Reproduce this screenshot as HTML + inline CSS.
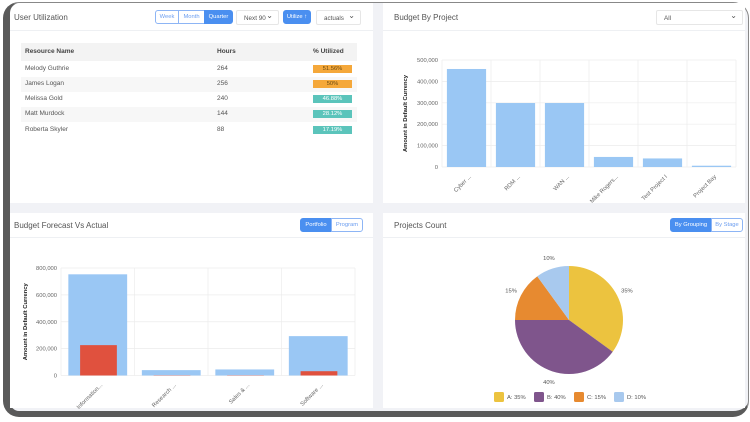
<!DOCTYPE html>
<html><head><meta charset="utf-8">
<style>
*{box-sizing:border-box;margin:0;padding:0}
body{width:750px;height:422px;background:#fff;font-family:"Liberation Sans",sans-serif;position:relative;overflow:hidden;color:#555}
#frame{position:absolute;left:3px;top:2px;width:746px;height:415px;border:1px solid #888;border-left:7px solid #5a5a5a;border-bottom:6px solid #5a5a5a;border-radius:16px;background:#f1f2f6;overflow:hidden}
.panel{position:absolute;background:#fff}
.title{position:absolute;font-size:8px;color:#555}
.hline{position:absolute;left:0;right:0;height:1px;background:#eef0f3}
.btn{position:absolute;font-size:5.8px;text-align:center;line-height:13px;height:14px;border:1px solid #8db5f5;color:#6c9ef0;background:#fff}
.btn.on{background:#4a8ff0;color:#fff;border-color:#4a8ff0}
.sel{position:absolute;font-size:6.3px;height:15px;line-height:15px;border:1px solid #e6e6e6;border-radius:2px;padding-left:7px;color:#555;background:#fff}
.sel:after{content:"⌄";position:absolute;right:5px;top:-3px;font-size:8px}
.td{position:absolute;font-size:6.5px;color:#555}
.badge{position:absolute;width:39px;height:8px;font-size:5.8px;text-align:center;line-height:8px;color:#fff}
svg text{font-family:"Liberation Sans",sans-serif}
</style></head><body>
<div id="frame"></div>
<div class="panel" style="left:10px;top:3px;width:363px;height:200px;border-top-left-radius:10px">
  <div class="title" style="left:4px;top:10px">User Utilization</div>
  <div class="btn" style="left:145px;top:7px;width:24px;border-radius:3px 0 0 3px">Week</div>
  <div class="btn" style="left:168px;top:7px;width:27px">Month</div>
  <div class="btn on" style="left:194px;top:7px;width:29px;border-radius:0 3px 3px 0">Quarter</div>
  <div class="sel" style="left:226px;top:7px;width:43px">Next 90</div>
  <div class="btn on" style="left:273px;top:7px;width:28px;border-radius:3px">Utilize ↑</div>
  <div class="sel" style="left:306px;top:7px;width:45px">actuals</div>
  <div class="hline" style="top:27px"></div>
  <div style="position:absolute;left:11px;top:40px;width:336px;height:18px;background:#f3f3f3"></div>
  <div class="td" style="left:15px;top:45px;font-weight:bold;color:#444">Resource Name</div>
  <div class="td" style="left:207px;top:45px;font-weight:bold;color:#444">Hours</div>
  <div class="td" style="left:303px;top:45px;font-weight:bold;color:#444">% Utilized</div>
  <div style="position:absolute;left:11px;top:74px;width:336px;height:15px;background:#f7f7f7"></div>
  <div style="position:absolute;left:11px;top:104px;width:336px;height:15px;background:#f7f7f7"></div>
  <div class="td" style="left:15px;top:62px">Melody Guthrie</div><div class="td" style="left:207px;top:62px">264</div><div class="badge" style="left:303px;top:62px;background:#f5a83a;color:#6b4a10">51.56%</div>
  <div class="td" style="left:15px;top:77px">James Logan</div><div class="td" style="left:207px;top:77px">256</div><div class="badge" style="left:303px;top:77px;background:#f5a83a;color:#6b4a10">50%</div>
  <div class="td" style="left:15px;top:92px">Melissa Gold</div><div class="td" style="left:207px;top:92px">240</div><div class="badge" style="left:303px;top:92px;background:#5bc4bb">46.88%</div>
  <div class="td" style="left:15px;top:107px">Matt Murdock</div><div class="td" style="left:207px;top:107px">144</div><div class="badge" style="left:303px;top:107px;background:#5bc4bb">28.12%</div>
  <div class="td" style="left:15px;top:123px">Roberta Skyler</div><div class="td" style="left:207px;top:123px">88</div><div class="badge" style="left:303px;top:123px;background:#5bc4bb">17.19%</div>
</div>
<div class="panel" style="left:383px;top:3px;width:362px;height:200px">
  <div class="title" style="left:11px;top:10px">Budget By Project</div>
  <div class="sel" style="left:273px;top:7px;width:87px">All</div>
  <div class="hline" style="top:27px"></div>
</div>
<div class="panel" style="left:10px;top:213px;width:363px;height:195px">
  <div class="title" style="left:4px;top:8px">Budget Forecast Vs Actual</div>
  <div class="btn on" style="left:290px;top:5px;width:32px;border-radius:3px 0 0 3px">Portfolio</div>
  <div class="btn" style="left:321px;top:5px;width:32px;border-radius:0 3px 3px 0">Program</div>
  <div class="hline" style="top:24px"></div>
</div>
<div class="panel" style="left:383px;top:213px;width:362px;height:195px">
  <div class="title" style="left:11px;top:8px">Projects Count</div>
  <div class="btn on" style="left:287px;top:5px;width:42px;border-radius:3px 0 0 3px">By Grouping</div>
  <div class="btn" style="left:328px;top:5px;width:32px;border-radius:0 3px 3px 0">By Stage</div>
  <div class="hline" style="top:24px"></div>
</div>
<svg id="charts" width="750" height="422" style="position:absolute;left:0;top:0"></svg>
<script>
const projCats=["Cyber ...","RDM ...","WAN ...","Mike Rogers...","Test Project I","Project Bay"];
const projValues=[458000,299000,299000,47000,40000,6000];
const projTicks=[0,100000,200000,300000,400000,500000];
const fcCats=["Information...","Research ...","Sales & ...","Software ..."];
const fcForecast=[753000,40000,45000,293000];
const fcActual=[226000,2000,2000,32000];
const fcTicks=[0,200000,400000,600000,800000];
const pieLabels=["A","B","C","D"];
const pieValues=[35,40,15,10];
const pieColors=["#ecc33f","#7f558c","#e78a30","#a8c9ee"];

const NS="http://www.w3.org/2000/svg";
const svg=document.getElementById('charts');
function mk(tag,attrs,parent){const e=document.createElementNS(NS,tag);for(const k in attrs)e.setAttribute(k,attrs[k]);(parent||svg).appendChild(e);return e;}
function fmt(v){return v.toLocaleString('en-US');}

function barChart(o){
  const g=mk('g',{});
  
  
  const max=o.ticks[o.ticks.length-1];
  const y=v=>o.y0-(v/max)*(o.y0-o.y1);
  const bw=(o.x1-o.x0)/o.cats.length;
  o.ticks.forEach(t=>{
    mk('line',{x1:o.x0,x2:o.x1,y1:y(t),y2:y(t),stroke:'#ececec','stroke-width':0.7},g);
    const tx=mk('text',{x:o.x0-4,y:y(t)+2,'font-size':5.8,fill:'#666','text-anchor':'end'},g);tx.textContent=fmt(t);
    
    
  });
  for(let i=0;i<=o.cats.length;i++){const x=o.x0+i*bw;mk('line',{x1:x,x2:x,y1:o.y1,y2:o.y0,stroke:'#ececec','stroke-width':0.7},g);}
  o.cats.forEach((c,i)=>{
    const bx=o.x0+i*bw;
    const r=mk('rect',{x:bx+bw*0.1,y:y(o.vals[i]),width:bw*0.8,height:o.y0-y(o.vals[i]),fill:'#9ac7f4'},g);
    
    
    if(o.vals2){const r2=mk('rect',{x:bx+bw*0.26,y:y(o.vals2[i]),width:bw*0.5,height:o.y0-y(o.vals2[i]),fill:'#e0513e'},g);
      
      }
    const cx=bx+bw/2+5, cy=o.y0+10;
    const t=mk('text',{x:cx,y:cy,'font-size':5.8,fill:'#666','text-anchor':'end',transform:`rotate(-45 ${cx} ${cy})`},g);t.textContent=c;
    
    
  });
  const yt=mk('text',{x:o.titleX,y:(o.y0+o.y1)/2,'font-size':5.8,'font-weight':'bold',fill:'#222','text-anchor':'middle',transform:`rotate(-90 ${o.titleX} ${(o.y0+o.y1)/2})`},g);
  yt.textContent='Amount in Default Currency';
  
  
}
barChart({name:'budget-by-project-chart',cats:projCats,vals:projValues,ticks:projTicks,x0:442,x1:736,y0:167,y1:60,titleX:407});
barChart({name:'budget-forecast-chart',cats:fcCats,vals:fcForecast,vals2:fcActual,ticks:fcTicks,x0:61,x1:355,y0:375.5,y1:268,titleX:27});

const pcx=569,pcy=320,pr=54;
const total=pieValues.reduce((a,b)=>a+b,0);
let ang=-Math.PI/2;
const pg=mk('g',{});


pieValues.forEach((v,i)=>{
  const a2=ang+v/total*2*Math.PI;
  const large=(a2-ang)>Math.PI?1:0;
  const p=mk('path',{d:`M${pcx},${pcy} L${pcx+pr*Math.cos(ang)},${pcy+pr*Math.sin(ang)} A${pr},${pr} 0 ${large} 1 ${pcx+pr*Math.cos(a2)},${pcy+pr*Math.sin(a2)} Z`,fill:pieColors[i]},pg);
  
  
  const mid=(ang+a2)/2, lr=pr+11;
  const t=mk('text',{x:pcx+lr*Math.cos(mid),y:pcy+lr*Math.sin(mid)+2,'font-size':5.8,fill:'#555','text-anchor':'middle'},pg);
  t.textContent=v+'%';
  
  
  const lx=494+i*40;
  const sq=mk('rect',{x:lx,y:392,width:10,height:10,rx:1.5,fill:pieColors[i]},pg);
  
  
  const lt=mk('text',{x:lx+13,y:399,'font-size':5.8,fill:'#555'},pg);
  lt.textContent=pieLabels[i]+': '+v+'%';
  
  
  ang=a2;
});
</script>
</body></html>
